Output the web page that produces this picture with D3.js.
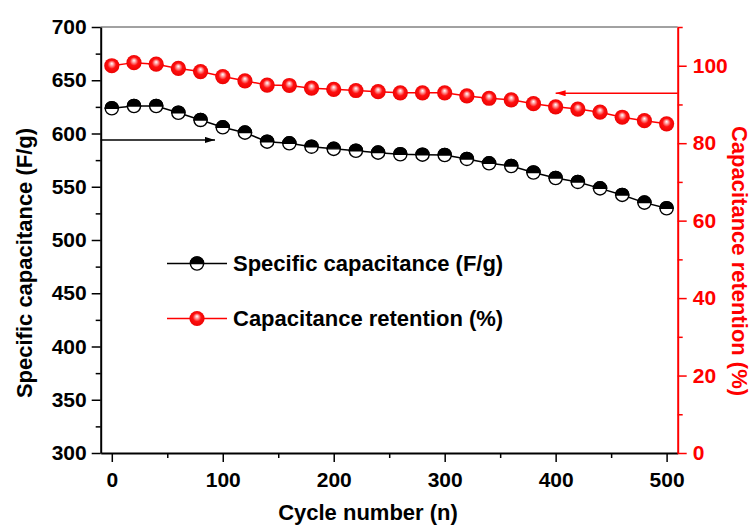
<!DOCTYPE html>
<html>
<head>
<meta charset="utf-8">
<script src="https://cdn.jsdelivr.net/npm/d3@7"></script>
<style>
  body { margin: 0; background: #fff; }
  svg text { font-family: 'Liberation Sans', Arial, sans-serif; font-weight: bold; }
</style>
</head>
<body>
<div id="chart"></div>
<script>
// ━━━━━━━━━━━━━━━━━━━━━━━━━━━━━━━━━━━━━━━━━━━━━━━━━━━━━━━━━━━━━━━━━━━━━━━━━━━━━━
// Data /////////////////////////////////////////////////////////////////////////
// ━━━━━━━━━━━━━━━━━━━━━━━━━━━━━━━━━━━━━━━━━━━━━━━━━━━━━━━━━━━━━━━━━━━━━━━━━━━━━━

const cycles = [0, 20, 40, 60, 80, 100, 120, 140, 160, 180, 200, 220, 240, 260, 280, 300, 320, 340, 360, 380, 400, 420, 440, 460, 480, 500];
const specific_cap = [623.7, 625.8, 625.8, 619.5, 612.7, 605.8, 600.8, 592.3, 590.8, 587.6, 585.6, 583.8, 582.0, 580.5, 580.1, 579.8, 576.1, 572.0, 569.5, 563.4, 558.2, 554.5, 548.5, 542.3, 535.1, 529.8];
const retention = [100.0, 100.8, 100.4, 99.3, 98.5, 97.2, 96.1, 95.0, 94.9, 94.2, 93.9, 93.6, 93.3, 93.0, 93.0, 93.0, 92.2, 91.6, 91.2, 90.2, 89.4, 88.8, 88.0, 86.7, 85.8, 85.0];

const x_ticks = [0, 100, 200, 300, 400, 500];
const x_minor = [50, 150, 250, 350, 450];
const yl_ticks = [300, 350, 400, 450, 500, 550, 600, 650, 700];
const yl_minor = [325, 375, 425, 475, 525, 575, 625, 675];
const yr_ticks = [0, 20, 40, 60, 80, 100];
const yr_minor = [10, 30, 50, 70, 90, 110];

const legend_labels = ['Specific capacitance (F/g)', 'Capacitance retention (%)'];

// arrows pointing each series to its axis (data coordinates)
const arrow_black = { from: -10, to: 93, value: 594 };
const arrow_red = { from: 510, to: 400, value: 92.9 };

// ━━━━━━━━━━━━━━━━━━━━━━━━━━━━━━━━━━━━━━━━━━━━━━━━━━━━━━━━━━━━━━━━━━━━━━━━━━━━━━
// SVG setup ////////////////////////////////////////////////////////////////////
// ━━━━━━━━━━━━━━━━━━━━━━━━━━━━━━━━━━━━━━━━━━━━━━━━━━━━━━━━━━━━━━━━━━━━━━━━━━━━━━

const width = 756, height = 527;
const m_left = 100.7, m_right = 677.7, m_top = 27, m_bottom = 453;
const RED = '#ff0000';

const svg = d3.select('#chart').append('svg')
  .attr('width', width)
  .attr('height', height)
  .attr('viewBox', [0, 0, width, height]);

const defs = svg.append('defs');

const sphere = defs.append('radialGradient')
  .attr('id', 'red-sphere')
  .attr('cx', 0.5).attr('cy', 0.5).attr('r', 0.55)
  .attr('fx', 0.5).attr('fy', 0.35);
sphere.selectAll('stop')
  .data([{ o: 0, c: '#ffffff' }, { o: 0.18, c: '#ffb0b0' }, { o: 0.5, c: '#ff1010' }, { o: 1, c: '#e80000' }])
  .join('stop')
  .attr('offset', d => d.o)
  .attr('stop-color', d => d.c);

const arrowhead = (id, color) => defs.append('marker')
  .attr('id', id)
  .attr('viewBox', '0 0 10 6')
  .attr('refX', 10).attr('refY', 3)
  .attr('markerWidth', 10).attr('markerHeight', 6)
  .attr('markerUnits', 'userSpaceOnUse')
  .attr('orient', 'auto')
  .append('path')
  .attr('d', 'M0,0 L10,3 L0,6 Z')
  .attr('fill', color);
arrowhead('head-black', '#000');
arrowhead('head-red', RED);

const x = d3.scaleLinear().domain([-10, 510]).range([m_left, m_right]);
const yL = d3.scaleLinear().domain([300, 700]).range([m_bottom, m_top]);
const yR = d3.scaleLinear().domain([0, 110]).range([m_bottom, m_top]);

// ━━━━━━━━━━━━━━━━━━━━━━━━━━━━━━━━━━━━━━━━━━━━━━━━━━━━━━━━━━━━━━━━━━━━━━━━━━━━━━
// Axes /////////////////////////////////////////////////////////////////////////
// ━━━━━━━━━━━━━━━━━━━━━━━━━━━━━━━━━━━━━━━━━━━━━━━━━━━━━━━━━━━━━━━━━━━━━━━━━━━━━━

// top frame line
svg.append('line')
  .attr('x1', m_left).attr('x2', m_right)
  .attr('y1', m_top).attr('y2', m_top)
  .attr('stroke', '#444').attr('stroke-width', 1);

function styleAxis(g, color, size) {
  g.select('.domain').attr('stroke', color).attr('stroke-width', 2);
  g.selectAll('.tick line').attr('stroke', color).attr('stroke-width', 1.5);
  g.selectAll('.tick text').attr('fill', color).style('font-size', size + 'px');
}

// minor ticks first, major axis on top
svg.append('g').attr('transform', `translate(0,${m_bottom})`)
  .call(d3.axisBottom(x).tickValues(x_minor).tickSize(5).tickFormat('').tickSizeOuter(0))
  .call(g => { g.select('.domain').remove(); g.selectAll('line').attr('stroke', '#000').attr('stroke-width', 1.5); });
svg.append('g').attr('transform', `translate(0,${m_bottom})`)
  .call(d3.axisBottom(x).tickValues(x_ticks).tickSize(9).tickPadding(10).tickSizeOuter(0))
  .call(g => styleAxis(g, '#000', 21));

svg.append('g').attr('transform', `translate(${m_left},0)`)
  .call(d3.axisLeft(yL).tickValues(yl_minor).tickSize(5).tickFormat('').tickSizeOuter(0))
  .call(g => { g.select('.domain').remove(); g.selectAll('line').attr('stroke', '#000').attr('stroke-width', 1.5); });
svg.append('g').attr('transform', `translate(${m_left},0)`)
  .call(d3.axisLeft(yL).tickValues(yl_ticks).tickSize(9).tickPadding(5).tickSizeOuter(0))
  .call(g => styleAxis(g, '#000', 21));

svg.append('g').attr('transform', `translate(${m_right},0)`)
  .call(d3.axisRight(yR).tickValues(yr_minor).tickSize(5).tickFormat('').tickSizeOuter(0))
  .call(g => { g.select('.domain').remove(); g.selectAll('line').attr('stroke', RED).attr('stroke-width', 1.5); });
svg.append('g').attr('transform', `translate(${m_right},0)`)
  .call(d3.axisRight(yR).tickValues(yr_ticks).tickSize(9).tickPadding(6).tickSizeOuter(0))
  .call(g => styleAxis(g, RED, 21));

// axis titles
svg.append('text')
  .attr('x', 368).attr('y', 520)
  .attr('text-anchor', 'middle')
  .style('font-size', '22px')
  .text('Cycle number (n)');

svg.append('text')
  .attr('transform', 'translate(32,263) rotate(-90)')
  .attr('text-anchor', 'middle')
  .style('font-size', '22px')
  .text('Specific capacitance (F/g)');

svg.append('text')
  .attr('transform', 'translate(732,261) rotate(90)')
  .attr('text-anchor', 'middle')
  .attr('fill', RED)
  .style('font-size', '22px')
  .text('Capacitance retention (%)');

// ━━━━━━━━━━━━━━━━━━━━━━━━━━━━━━━━━━━━━━━━━━━━━━━━━━━━━━━━━━━━━━━━━━━━━━━━━━━━━━
// Series ///////////////////////////////////////////////////////////////////////
// ━━━━━━━━━━━━━━━━━━━━━━━━━━━━━━━━━━━━━━━━━━━━━━━━━━━━━━━━━━━━━━━━━━━━━━━━━━━━━━

const R_BLACK = 6.6, R_RED = 7.6;

function halfMarker(g) {
  g.append('circle').attr('r', R_BLACK).attr('fill', '#fff').attr('stroke', '#000').attr('stroke-width', 1.4);
  g.append('path')
    .attr('d', `M${-R_BLACK},0 A${R_BLACK},${R_BLACK} 0 0 1 ${R_BLACK},0 Z`)
    .attr('fill', '#000').attr('stroke', '#000').attr('stroke-width', 1.4);
}
function redMarker(g) {
  g.append('circle').attr('r', R_RED).attr('fill', 'url(#red-sphere)');
}

const black_pts = cycles.map((c, i) => [c, specific_cap[i]]);
const red_pts = cycles.map((c, i) => [c, retention[i]]);

svg.append('path')
  .attr('d', d3.line().x(d => x(d[0])).y(d => yL(d[1]))(black_pts))
  .attr('fill', 'none').attr('stroke', '#000').attr('stroke-width', 1.5);
svg.append('g').selectAll('g')
  .data(black_pts)
  .join('g')
  .attr('transform', d => `translate(${x(d[0])},${yL(d[1])})`)
  .each(function () { halfMarker(d3.select(this)); });

svg.append('path')
  .attr('d', d3.line().x(d => x(d[0])).y(d => yR(d[1]))(red_pts))
  .attr('fill', 'none').attr('stroke', RED).attr('stroke-width', 1.5);
svg.append('g').selectAll('g')
  .data(red_pts)
  .join('g')
  .attr('transform', d => `translate(${x(d[0])},${yR(d[1])})`)
  .each(function () { redMarker(d3.select(this)); });

// arrows
svg.append('line')
  .attr('x1', x(arrow_black.from)).attr('x2', x(arrow_black.to))
  .attr('y1', yL(arrow_black.value)).attr('y2', yL(arrow_black.value))
  .attr('stroke', '#000').attr('stroke-width', 1.5)
  .attr('marker-end', 'url(#head-black)');
svg.append('line')
  .attr('x1', x(arrow_red.from)).attr('x2', x(arrow_red.to))
  .attr('y1', yR(arrow_red.value)).attr('y2', yR(arrow_red.value))
  .attr('stroke', RED).attr('stroke-width', 1.5)
  .attr('marker-end', 'url(#head-red)');

// ━━━━━━━━━━━━━━━━━━━━━━━━━━━━━━━━━━━━━━━━━━━━━━━━━━━━━━━━━━━━━━━━━━━━━━━━━━━━━━
// Legend ///////////////////////////////////////////////////////////////////////
// ━━━━━━━━━━━━━━━━━━━━━━━━━━━━━━━━━━━━━━━━━━━━━━━━━━━━━━━━━━━━━━━━━━━━━━━━━━━━━━

const legend = svg.append('g').attr('transform', 'translate(197,263.5)');
const items = legend.selectAll('g')
  .data(legend_labels)
  .join('g')
  .attr('transform', (d, i) => `translate(0,${i * 55})`);

items.append('line')
  .attr('x1', -30).attr('x2', 30)
  .attr('stroke', (d, i) => i === 0 ? '#000' : RED)
  .attr('stroke-width', 1.5);
items.each(function (d, i) {
  const g = d3.select(this).append('g');
  i === 0 ? halfMarker(g) : redMarker(g);
});
items.append('text')
  .attr('x', 36).attr('dy', '0.35em')
  .style('font-size', '22px')
  .text(d => d);
</script>
</body>
</html>
